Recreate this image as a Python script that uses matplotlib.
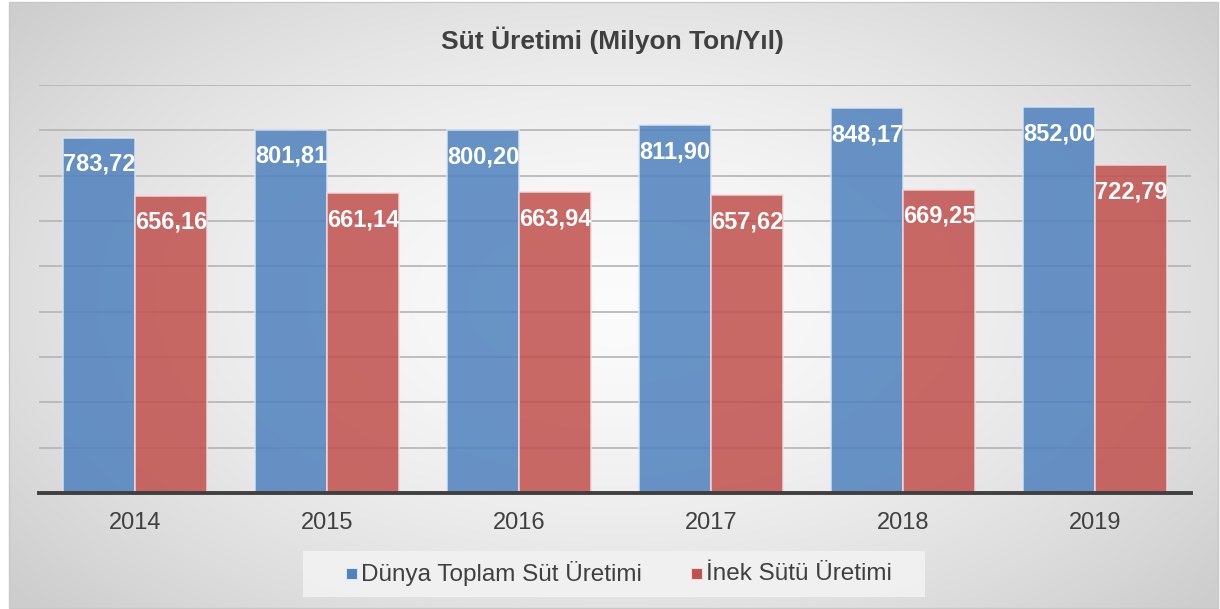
import numpy as np
import matplotlib
matplotlib.use("Agg")
import matplotlib.pyplot as plt
from matplotlib.patches import Rectangle

years = ["2014", "2015", "2016", "2017", "2018", "2019"]
dunya = [783.72, 801.81, 800.20, 811.90, 848.17, 852.00]
inek = [656.16, 661.14, 663.94, 657.62, 669.25, 722.79]
series_names = ["Dünya Toplam Süt Üretimi", "İnek Sütü Üretimi"]
title = "Süt Üretimi (Milyon Ton/Yıl)"

plt.rcParams['font.family'] = ['Liberation Sans', 'DejaVu Sans']

W, H = 1220, 609
fig = plt.figure(figsize=(W / 100, H / 100), dpi=100)
fig.patch.set_facecolor("white")

# background radial gradient panel
bg = fig.add_axes([0, 0, 1, 1], zorder=-10)
bg.set_xlim(0, W)
bg.set_ylim(H, 0)
bg.axis("off")
yy, xx = np.mgrid[0:H, 0:W]
cx, cy = 612, 300
r = np.sqrt(((xx - cx) / 640.0) ** 2 + ((yy - cy) / 360.0) ** 2)
r = np.clip(r, 0, 1.25)
val = 0.985 - 0.18 * (r / 1.25) ** 1.6
img = np.dstack([val, val, val])
bg.imshow(img, extent=(9, W - 2, H - 1, 2), aspect="auto", interpolation="bilinear")
bg.add_patch(Rectangle((9, 2), W - 11, H - 3, fill=False, edgecolor="#c8c8c8", lw=1))

ax = fig.add_axes([39 / W, (H - 493) / H, (1191 - 39) / W, (493 - 85) / H])
ax.patch.set_alpha(0)
x = np.arange(len(years))
bw = 0.375
b1 = ax.bar(x - bw / 2, dunya, bw, color="#4f81bd", alpha=0.85, edgecolor="#dce6f2", lw=1.2, zorder=3)
b2 = ax.bar(x + bw / 2, inek, bw, color="#c0504d", alpha=0.85, edgecolor="#f2dcdb", lw=1.2, zorder=3)

ax.set_xlim(-0.5, len(years) - 0.5)
ax.set_ylim(0, 900)
ax.set_yticks(np.arange(100, 901, 100))
ax.yaxis.grid(True, color="#b4b4b4", lw=1.2, zorder=1)
ax.set_axisbelow(True)
ax.tick_params(axis="y", left=False, labelleft=False)
ax.set_xticks(x)
ax.set_xticklabels(years, fontsize=17, color="#404040")
ax.tick_params(axis="x", length=0, pad=14)
for s in ["top", "right", "left"]:
    ax.spines[s].set_visible(False)
ax.spines["bottom"].set_color("#404040")
ax.spines["bottom"].set_linewidth(2.8)
ax.spines["bottom"].set_zorder(5)

def fmt(v):
    return f"{v:.2f}".replace(".", ",")

for bars, vals in ((b1, dunya), (b2, inek)):
    for rect, v in zip(bars, vals):
        ax.annotate(fmt(v), (rect.get_x() + rect.get_width() / 2, v),
                    xytext=(0, -11), textcoords="offset points",
                    ha="center", va="top", color="white", fontsize=17,
                    fontweight="bold", zorder=6)

fig.text(612 / W, 1 - 40 / H, title, ha="center", va="center",
         fontsize=19, fontweight="bold", color="#404040")

# legend
lax = fig.add_axes([0, 0, 1, 1], zorder=5)
lax.set_xlim(0, W)
lax.set_ylim(H, 0)
lax.axis("off")
lax.add_patch(Rectangle((303, 551), 622, 46, facecolor="#f2f2f2", edgecolor="none", alpha=0.9))
lax.add_patch(Rectangle((346, 568), 11, 11, facecolor="#4f81bd", edgecolor="#dce6f2", lw=0.8))
lax.text(361, 574, series_names[0], fontsize=17.5, color="#404040", va="center", ha="left")
lax.add_patch(Rectangle((691, 568), 11, 11, facecolor="#c0504d", edgecolor="#f2dcdb", lw=0.8))
lax.text(706, 574, series_names[1], fontsize=17.5, color="#404040", va="center", ha="left")

fig.savefig("out.png", dpi=100)
